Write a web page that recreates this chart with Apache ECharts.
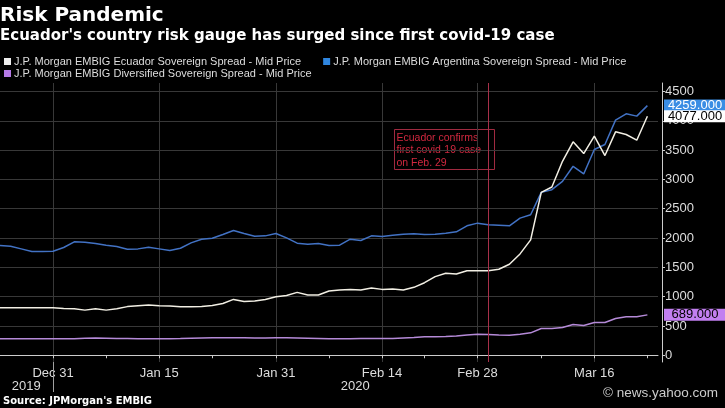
<!DOCTYPE html>
<html>
<head>
<meta charset="utf-8">
<script src="https://cdn.jsdelivr.net/npm/echarts@6/dist/echarts.min.js"></script>
<style>
  html, body { margin: 0; padding: 0; background: #000; }
  #chart { width: 725px; height: 408px; }
</style>
</head>
<body>
<div id="chart"></div>
<script>
// trading days (US bond holidays skipped), last one is empty padding
var dates = ['Dec 23','Dec 24','Dec 26','Dec 27','Dec 30','Dec 31','Jan 2','Jan 3','Jan 6','Jan 7','Jan 8','Jan 9','Jan 10',
  'Jan 13','Jan 14','Jan 15','Jan 16','Jan 17','Jan 21','Jan 22','Jan 23','Jan 24','Jan 27','Jan 28','Jan 29','Jan 30','Jan 31',
  'Feb 3','Feb 4','Feb 5','Feb 6','Feb 7','Feb 10','Feb 11','Feb 12','Feb 13','Feb 14','Feb 18','Feb 19','Feb 20','Feb 21',
  'Feb 24','Feb 25','Feb 26','Feb 27','Feb 28','Mar 2','Mar 3','Mar 4','Mar 5','Mar 6','Mar 9','Mar 10','Mar 11','Mar 12','Mar 13',
  'Mar 16','Mar 17','Mar 18','Mar 19','Mar 20','Mar 23','Mar 24'];

var ecuador = [810,810,810,810,810,810,799,793,770,793,770,793,830,844,856,844,
  839,827,827,833,850,884,953,919,924,953,999,1021,1073,1027,1027,1096,
  1113,1124,1113,1147,1124,1130,1113,1159,1238,1341,1398,1387,1443,1443,1443,
  1467,1553,1729,1969,2779,2871,3309,3641,3441,3737,3407,3812,3766,3669,4077];

var argentina = [1871,1860,1815,1769,1769,1775,1838,1935,1929,1906,1878,1855,1809,1815,1844,1815,
  1786,1826,1918,1980,1997,2060,2128,2077,2032,2037,2077,2003,1912,1895,1906,1872,
  1878,1980,1958,2037,2026,2049,2066,2071,2060,2066,2083,2106,2208,2254,2225,
  2219,2208,2340,2397,2779,2825,2967,3224,3093,3510,3595,4011,4120,4080,4259];

var diversified = [280,280,280,280,280,280,280,280,290,295,290,285,285,282,280,280,
  282,285,290,295,297,297,297,297,295,295,297,297,295,290,285,280,
  280,282,285,285,285,288,295,302,314,314,318,330,345,359,354,
  345,342,360,382,457,457,474,525,508,559,559,628,656,656,689];

var majorDates = ['Dec 31','Jan 15','Jan 31','Feb 14','Feb 28','Mar 16'];
var minorDates = ['Jan 8','Jan 23','Feb 7','Feb 21','Mar 9','Mar 23'];
var yearLabels = {'Dec 26': '2019', 'Feb 11': '2020'};
var yearBreak = 'Dec 31';
var eventDate = 'Mar 2';
var yTicks = [0,500,1000,1500,2000,2500,3000,3500,4000,4500];

var names = ['J.P. Morgan EMBIG Ecuador Sovereign Spread - Mid Price',
  'J.P. Morgan EMBIG Argentina Sovereign Spread - Mid Price',
  'J.P. Morgan EMBIG Diversified Sovereign Spread - Mid Price'];

var axisFont = 'Liberation Sans, Arial, sans-serif';
var headFont = 'DejaVu Sans, Verdana, sans-serif';
var gridColor = '#383838';
var padDate = dates[dates.length - 1];
var yMin = -115, yMax = 4645;

var W = 725, H = 408;
var gridBox = { left: 0, right: 67, top: 83, bottom: 46 };
// x of the year break from the category layout (boundaryGap false)
var step = (W - gridBox.left - gridBox.right) / (dates.length - 1);
var breakX = Math.round(gridBox.left + dates.indexOf(yearBreak) * step) + 0.5;
var axisY = H - gridBox.bottom;

function lastLabel(value, bg, fg, z) {
  return {
    symbol: 'rect',
    symbolSize: [62, 12],
    symbolOffset: [37, 0],
    silent: true,
    z: z,
    itemStyle: { color: bg },
    label: {
      show: true, position: 'inside', color: fg,
      fontFamily: axisFont, fontSize: 13,
      formatter: function (p) { return p.value.toFixed(3); }
    },
    data: [{ coord: [padDate, value], value: value }]
  };
}

var chart = echarts.init(document.getElementById('chart'));
chart.setOption({
  backgroundColor: '#000',
  animation: false,
  title: [
    { text: 'Risk Pandemic', left: 0, top: 6, padding: 0,
      textStyle: { color: '#fff', fontFamily: headFont, fontSize: 20, fontWeight: 'bold' } },
    { text: "Ecuador's country risk gauge has surged since first covid-19 case", left: 0, top: 29, padding: 0,
      textStyle: { color: '#fff', fontFamily: headFont, fontSize: 15, fontWeight: 'bold' } },
    { text: "Source: JPMorgan's EMBIG", left: 3, top: 396, padding: 0,
      textStyle: { color: '#fff', fontFamily: headFont, fontSize: 10, fontWeight: 'bold' } },
    { text: '\u00a9 news.yahoo.com', right: 7, top: 386, padding: 0,
      textStyle: { color: '#ccc', fontFamily: axisFont, fontSize: 13.5, fontWeight: 'normal' } }
  ],
  legend: [
    { data: [names[0], names[1]], left: 4, top: 56, icon: 'rect', itemWidth: 7, itemHeight: 7,
      itemGap: 22, padding: 0, selectedMode: false,
      textStyle: { color: '#ddd', fontFamily: axisFont, fontSize: 11, padding: [0, 0, 0, -2] } },
    { data: [names[2]], left: 4, top: 68, icon: 'rect', itemWidth: 7, itemHeight: 7,
      padding: 0, selectedMode: false,
      textStyle: { color: '#ddd', fontFamily: axisFont, fontSize: 11, padding: [0, 0, 0, -2] } }
  ],
  grid: { left: gridBox.left, right: gridBox.right, top: gridBox.top, bottom: gridBox.bottom, containLabel: false },
  xAxis: [{
    type: 'category',
    data: dates,
    boundaryGap: false,
    axisLine: { show: true, lineStyle: { color: '#ccc', width: 1 } },
    axisTick: {
      show: true, length: 3, lineStyle: { color: '#ccc' },
      interval: function (i, v) { return majorDates.indexOf(v) >= 0 || minorDates.indexOf(v) >= 0; }
    },
    axisLabel: {
      color: '#ddd', fontFamily: axisFont, fontSize: 13, margin: 5,
      interval: function (i, v) { return majorDates.indexOf(v) >= 0; }
    },
    splitLine: {
      show: true, lineStyle: { color: gridColor, width: 1 },
      interval: function (i, v) { return majorDates.indexOf(v) >= 0; }
    }
  }, {
    type: 'category',
    data: dates,
    position: 'bottom',
    boundaryGap: false,
    axisLine: { show: false },
    axisTick: { show: false },
    axisLabel: {
      color: '#ddd', fontFamily: axisFont, fontSize: 13, margin: 18,
      padding: [0, 0, 0, 10],
      interval: function (i, v) { return yearLabels[v] !== undefined; },
      formatter: function (v) { return yearLabels[v] || ''; }
    },
    splitLine: { show: false }
  }],
  yAxis: {
    type: 'value',
    position: 'right',
    offset: 4,
    min: yMin,
    max: yMax,
    axisLine: { show: true, lineStyle: { color: '#ccc', width: 1 } },
    axisTick: { show: true, length: 3, lineStyle: { color: '#ccc' }, customValues: yTicks },
    axisLabel: {
      color: '#ddd', fontFamily: axisFont, fontSize: 13, margin: 3, customValues: yTicks,
      formatter: function (v) { return String(v); }
    },
    splitLine: { show: true, lineStyle: { color: gridColor, width: 1 } }
  },
  series: [{
    name: names[0],
    type: 'line',
    data: ecuador,
    symbol: 'none',
    z: 4,
    itemStyle: { color: '#eeeeee' },
    lineStyle: { color: '#f2efe4', width: 1.5 },
    markPoint: lastLabel(ecuador[ecuador.length - 1], '#ffffff', '#000', 7)
  }, {
    name: names[1],
    type: 'line',
    data: argentina,
    symbol: 'none',
    z: 3,
    itemStyle: { color: '#2f86e0' },
    lineStyle: { color: '#4272c4', width: 1.5 },
    markPoint: lastLabel(argentina[argentina.length - 1], '#3a8de4', '#fff', 6),
    markLine: {
      silent: true,
      symbol: 'none',
      label: { show: false },
      lineStyle: { color: '#a8304a', width: 1, type: 'solid' },
      data: [{ xAxis: eventDate }]
    }
  }, {
    name: names[2],
    type: 'line',
    data: diversified,
    symbol: 'none',
    z: 3,
    itemStyle: { color: '#b57ae6' },
    lineStyle: { color: '#b58ad8', width: 1.5 },
    markPoint: lastLabel(diversified[diversified.length - 1], '#c27ff0', '#000', 6)
  }],
  graphic: {
    elements: [{
      type: 'group',
      left: 392,
      top: 127,
      children: [{
        type: 'rect',
        shape: { x: 0, y: 0, width: 100, height: 40 },
        style: { fill: 'none', stroke: '#a02a40', lineWidth: 1 }
      }, {
        type: 'text',
        x: 2, y: 2,
        style: {
          text: 'Ecuador confirms\nfirst covid-19 case\non Feb. 29',
          fill: '#d0283f', font: '10.5px Liberation Sans, Arial, sans-serif', lineHeight: 12.5
        }
      }]
    }, {
      type: 'line',
      silent: true,
      z: 100,
      shape: { x1: breakX, y1: axisY, x2: breakX, y2: axisY + 30 },
      style: { stroke: '#a0a0a0', lineWidth: 1 }
    }]
  }
});
</script>
</body>
</html>
